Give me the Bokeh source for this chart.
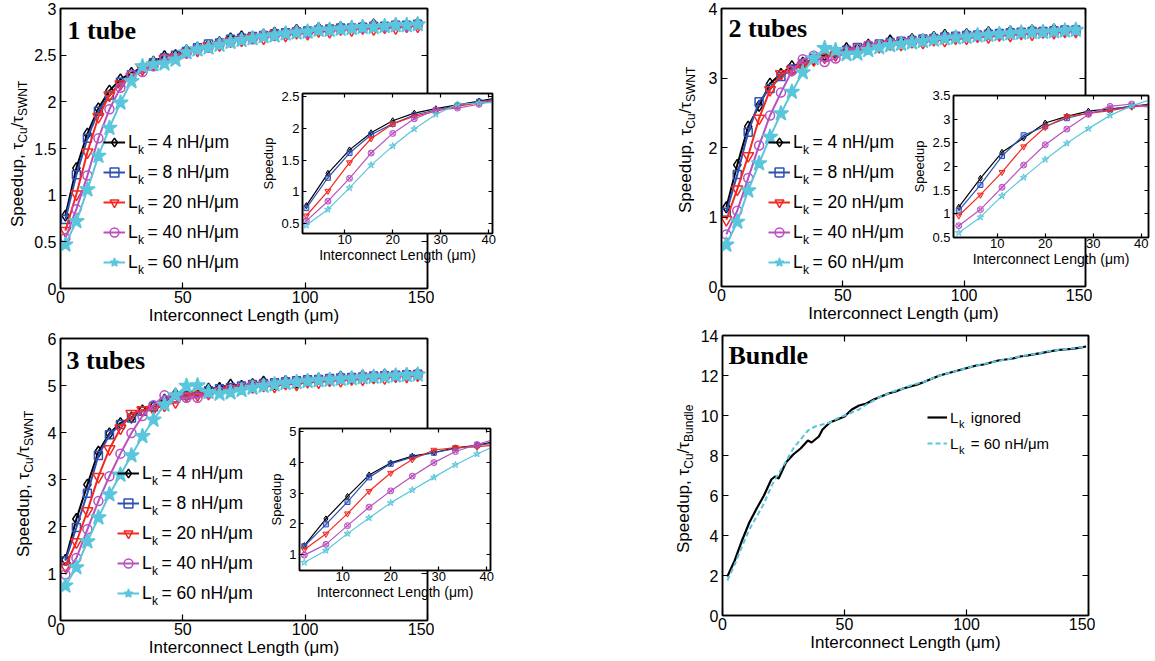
from math import pi
from bokeh.plotting import figure
from bokeh.models import (Range1d, FixedTicker, LinearAxis, NumeralTickFormatter,
                          CustomJSTickFormatter, Legend, LegendItem, Label, GridBox, Div)
from bokeh.embed import file_html
from bokeh.resources import INLINE

SANS = "Liberation Sans"
SERIF = "Liberation Serif"

# ---------------- data ----------------
X = [2, 6.5, 11, 15.5, 20, 24.5, 29, 33.5, 38, 42.5, 47, 51.5, 56, 60.5, 65, 69.5, 74,
     78.5, 83, 87.5, 92, 96.5, 101, 105.5, 110, 114.5, 119, 123.5, 128, 132.5, 137, 141.5, 146]

LK_LABELS = ["4", "8", "20", "40", "60"]

T1_4 = [0.78, 1.29, 1.66, 1.93, 2.12, 2.24, 2.31, 2.37, 2.43, 2.49, 2.50, 2.55, 2.58, 2.61, 2.64, 2.68, 2.70,
        2.69, 2.72, 2.74, 2.74, 2.77, 2.76, 2.79, 2.78, 2.80, 2.80, 2.81, 2.83, 2.80, 2.83, 2.82, 2.84]
T1_8 = [0.74, 1.22, 1.61, 1.90, 2.07, 2.21, 2.29, 2.36, 2.42, 2.47, 2.50, 2.54, 2.58, 2.62, 2.63, 2.67, 2.68,
        2.70, 2.71, 2.73, 2.74, 2.75, 2.76, 2.77, 2.78, 2.79, 2.79, 2.80, 2.81, 2.81, 2.82, 2.82, 2.83]
T1_20 = [0.62, 1.01, 1.46, 1.84, 2.07, 2.19, 2.27, 2.35, 2.40, 2.46, 2.48, 2.53, 2.55, 2.60, 2.61, 2.65, 2.66,
         2.69, 2.68, 2.72, 2.71, 2.74, 2.73, 2.76, 2.75, 2.78, 2.77, 2.79, 2.78, 2.80, 2.79, 2.81, 2.81]
T1_40 = [0.54, 0.85, 1.21, 1.61, 1.92, 2.15, 2.29, 2.32, 2.38, 2.46, 2.47, 2.52, 2.56, 2.58, 2.62, 2.64, 2.67,
         2.67, 2.71, 2.71, 2.73, 2.75, 2.74, 2.77, 2.77, 2.78, 2.79, 2.79, 2.81, 2.80, 2.82, 2.81, 2.83]
T1_60 = [0.47, 0.72, 1.06, 1.42, 1.72, 1.99, 2.22, 2.38, 2.40, 2.41, 2.45, 2.53, 2.56, 2.58, 2.61, 2.64, 2.66,
         2.68, 2.70, 2.71, 2.73, 2.74, 2.75, 2.77, 2.77, 2.78, 2.79, 2.80, 2.80, 2.81, 2.82, 2.82, 2.83]

T2_4 = [1.14, 1.75, 2.30, 2.60, 2.92, 3.06, 3.17, 3.22, 3.26, 3.33, 3.36, 3.43, 3.42, 3.48, 3.47, 3.54, 3.52,
        3.56, 3.55, 3.59, 3.62, 3.60, 3.63, 3.62, 3.66, 3.64, 3.67, 3.66, 3.69, 3.67, 3.70, 3.68, 3.70]
T2_8 = [1.07, 1.61, 2.22, 2.66, 2.85, 3.02, 3.13, 3.20, 3.28, 3.31, 3.37, 3.40, 3.44, 3.46, 3.49, 3.51, 3.53,
        3.54, 3.56, 3.57, 3.59, 3.60, 3.61, 3.62, 3.63, 3.64, 3.65, 3.66, 3.67, 3.67, 3.68, 3.69, 3.69]
T2_20 = [0.96, 1.40, 1.88, 2.42, 2.83, 3.06, 3.12, 3.18, 3.26, 3.30, 3.33, 3.38, 3.39, 3.44, 3.45, 3.49, 3.48,
         3.52, 3.51, 3.55, 3.54, 3.57, 3.57, 3.60, 3.59, 3.62, 3.61, 3.64, 3.63, 3.66, 3.65, 3.67, 3.67]
T2_40 = [0.75, 1.09, 1.56, 2.03, 2.46, 2.79, 3.10, 3.27, 3.32, 3.23, 3.28, 3.38, 3.42, 3.47, 3.48, 3.50, 3.52,
         3.53, 3.55, 3.56, 3.58, 3.59, 3.60, 3.61, 3.62, 3.63, 3.64, 3.65, 3.66, 3.66, 3.67, 3.68, 3.68]
T2_60 = [0.60, 0.93, 1.38, 1.77, 2.15, 2.49, 2.80, 3.08, 3.28, 3.43, 3.40, 3.34, 3.35, 3.40, 3.44, 3.47, 3.49,
         3.51, 3.53, 3.55, 3.57, 3.58, 3.59, 3.61, 3.62, 3.63, 3.64, 3.65, 3.66, 3.66, 3.67, 3.68, 3.69]

T3_4 = [1.29, 2.16, 2.89, 3.59, 3.98, 4.20, 4.32, 4.47, 4.55, 4.70, 4.82, 4.86, 4.88, 4.93, 4.95, 5.02, 4.99,
        5.03, 5.08, 5.03, 5.10, 5.06, 5.11, 5.14, 5.11, 5.19, 5.15, 5.21, 5.17, 5.23, 5.19, 5.24, 5.25]
T3_8 = [1.27, 1.98, 2.71, 3.51, 3.95, 4.17, 4.31, 4.45, 4.55, 4.65, 4.73, 4.80, 4.85, 4.89, 4.93, 4.96, 4.99,
        5.02, 5.04, 5.06, 5.08, 5.10, 5.12, 5.13, 5.15, 5.16, 5.17, 5.18, 5.20, 5.21, 5.22, 5.23, 5.24]
T3_20 = [1.16, 1.67, 2.33, 3.06, 3.65, 4.09, 4.40, 4.48, 4.50, 4.58, 4.65, 4.78, 4.80, 4.83, 4.88, 4.92, 4.94,
         4.97, 5.00, 4.98, 5.04, 5.02, 5.08, 5.07, 5.11, 5.10, 5.14, 5.13, 5.17, 5.16, 5.20, 5.19, 5.22]
T3_40 = [0.98, 1.33, 1.94, 2.54, 3.07, 3.55, 3.99, 4.35, 4.58, 4.79, 4.72, 4.74, 4.74, 4.83, 4.87, 4.92, 4.96,
         5.00, 5.02, 5.04, 5.06, 5.08, 5.10, 5.12, 5.13, 5.15, 5.16, 5.18, 5.19, 5.20, 5.21, 5.22, 5.23]
T3_60 = [0.74, 1.13, 1.68, 2.19, 2.68, 3.10, 3.51, 3.92, 4.27, 4.59, 4.79, 4.99, 5.00, 4.86, 4.82, 4.85, 4.90,
         4.95, 4.99, 5.02, 5.05, 5.07, 5.09, 5.11, 5.12, 5.14, 5.15, 5.17, 5.18, 5.19, 5.21, 5.22, 5.23]

BX = [2, 5, 8, 11, 14, 17, 20, 21.5, 23, 26, 29, 32, 35, 36.5, 38, 39.5, 41, 44, 47, 50, 53, 56, 59, 62,
      65, 68, 71, 74, 77, 80, 83, 86, 89, 92, 95, 98, 101, 104, 107, 110, 113, 116, 119, 122, 125, 128,
      131, 134, 137, 140, 143, 146, 149]
B_IGNORED = [1.95, 2.75, 3.75, 4.65, 5.35, 6.00, 6.80, 6.95, 6.85, 7.65, 8.05, 8.35, 8.75, 8.65, 8.80,
             8.95, 9.30, 9.65, 9.80, 9.95, 10.30, 10.50, 10.60, 10.80, 10.95, 11.10, 11.20, 11.35, 11.45,
             11.55, 11.70, 11.85, 12.00, 12.10, 12.20, 12.30, 12.40, 12.50, 12.55, 12.65, 12.75, 12.80,
             12.85, 12.95, 13.00, 13.07, 13.13, 13.20, 13.27, 13.30, 13.33, 13.38, 13.45]
B_LK60 = [1.75, 2.55, 3.45, 4.30, 4.95, 5.60, 6.45, 6.80, 7.10, 7.70, 8.35, 8.80, 9.25, 9.35, 9.45, 9.50,
          9.55, 9.65, 9.85, 10.00, 10.15, 10.30, 10.55, 10.75, 10.95, 11.10, 11.25, 11.35, 11.50, 11.60,
          11.70, 11.85, 12.00, 12.10, 12.20, 12.30, 12.40, 12.50, 12.57, 12.65, 12.73, 12.80, 12.87,
          12.95, 13.02, 13.08, 13.15, 13.22, 13.27, 13.31, 13.35, 13.40, 13.46]

COLORS = ["#000000", "#2e50b4", "#f4281f", "#b950bf", "#5ac6dc"]
MARKERS = ["diamond", "square", "inverted_triangle", "circle", "star"]
MAIN_SIZES = [11, 8, 11, 9, 16]
INSET_MARKERS = ["diamond", "square", "inverted_triangle", "circle_x", "star"]
INSET_SIZES = [6, 5, 6, 6, 7]

# ---------------- geometry (page pixels) ----------------
# All plots share the same border sizes (the grid aligns plot frames to the largest
# borders), and each plot is placed with its own margin.
ML, MT, MR, MB = 60, 8, 7, 40
G = {
    "P1": dict(fl=60, ft=8, fw=367, fh=280, xr=(0, 150), yr=(0, 3)),
    "P2": dict(fl=721, ft=8, fw=364, fh=278, xr=(0, 150), yr=(0, 4)),
    "P3": dict(fl=60, ft=338, fw=367, fh=282, xr=(0, 150), yr=(0, 6)),
    "P4": dict(fl=722, ft=335, fw=366, fh=280, xr=(0, 150), yr=(0, 14)),
    "I1": dict(fl=302, ft=93, fw=190, fh=140, xr=(1.2, 40.8), yr=(0.34, 2.55)),
    "I2": dict(fl=953, ft=95, fw=195, fh=142, xr=(0.9, 41.5), yr=(0.5, 3.5)),
    "I3": dict(fl=299, ft=428, fw=191, fh=142, xr=(1.0, 40.8), yr=(0.48, 5.1)),
}


def to_data(g, px, py):
    x = g["xr"][0] + (px - g["fl"]) * (g["xr"][1] - g["xr"][0]) / g["fw"]
    y = g["yr"][1] - (py - g["ft"]) * (g["yr"][1] - g["yr"][0]) / g["fh"]
    return x, y


def add_text(p, g, px, py, text, size, font=SANS, angle=0, align="left",
             baseline="middle", style="normal"):
    x, y = to_data(g, px, py)
    p.add_layout(Label(x=x, y=y, x_units="data", y_units="data", text=text,
                       text_font=font, text_font_size=f"{size}px", text_align=align,
                       text_baseline=baseline, angle=angle, text_font_style=style,
                       text_color="black"))


def style_axis(ax, ticks, font_px, tick_len, labels=True):
    ax.ticker = FixedTicker(ticks=ticks)
    ax.major_tick_in = tick_len
    ax.major_tick_out = 0
    ax.minor_tick_line_color = None
    ax.axis_line_color = "black"
    ax.axis_line_width = 1.5
    ax.major_tick_line_color = "black"
    ax.major_tick_line_width = 1.2
    if labels:
        ax.formatter = NumeralTickFormatter(format="0.[0]")
        ax.major_label_text_font = SANS
        ax.major_label_text_font_size = f"{font_px}px"
        ax.major_label_text_color = "black"
    else:
        ax.formatter = CustomJSTickFormatter(code="return ''")
        ax.major_label_text_font_size = "1px"
        ax.major_label_standoff = 0


def make_fig(key, xt, yt, tick_px, tick_len, xlab_px, inset):
    g = G[key]
    p = figure(frame_width=g["fw"], frame_height=g["fh"],
               x_range=Range1d(*g["xr"]), y_range=Range1d(*g["yr"]),
               output_backend="svg", toolbar_location=None, tools="",
               min_border_left=ML, min_border_top=MT, min_border_right=MR, min_border_bottom=MB)
    p.margin = (g["ft"] - MT, 0, 0, g["fl"] - ML)
    p.xgrid.visible = False
    p.ygrid.visible = False
    p.outline_line_color = "black"
    p.outline_line_width = 1.5
    p.background_fill_color = "white"
    p.border_fill_alpha = 0
    xa = p.xaxis[0]
    ya = p.yaxis[0]
    style_axis(xa, xt, tick_px, tick_len)
    style_axis(ya, yt, tick_px, tick_len)
    xa.major_label_standoff = 2 if not inset else 1
    ya.major_label_standoff = 4 if not inset else 3
    xa.axis_label = "Interconnect Length (μm)"
    xa.axis_label_text_font = SANS
    xa.axis_label_text_font_size = f"{xlab_px}px"
    xa.axis_label_text_font_style = "normal"
    xa.axis_label_text_color = "black"
    xa.axis_label_standoff = 0
    if inset:
        ya.axis_label = "Speedup"
        ya.axis_label_text_font = SANS
        ya.axis_label_text_font_size = "13px"
        ya.axis_label_text_font_style = "normal"
        ya.axis_label_text_color = "black"
        ya.axis_label_standoff = 2
    top = LinearAxis()
    style_axis(top, xt, tick_px, tick_len, labels=False)
    p.add_layout(top, "above")
    right = LinearAxis()
    style_axis(right, yt, tick_px, tick_len, labels=False)
    p.add_layout(right, "right")
    return p


def draw_series(p, ys_list, inset):
    out = []
    for i, ys in enumerate(ys_list):
        col = COLORS[i]
        lw = 1.2 if inset else 2
        ln = p.line(X, ys, line_color=col, line_width=lw)
        if inset:
            mk = p.scatter(X, ys, marker=INSET_MARKERS[i], size=INSET_SIZES[i], line_color=col,
                           fill_color=col, fill_alpha=0.35, line_width=1)
        else:
            filled = MARKERS[i] == "star"
            mk = p.scatter(X, ys, marker=MARKERS[i], size=MAIN_SIZES[i], line_color=col,
                           fill_color=col, fill_alpha=1.0 if filled else 0.0, line_width=1.5)
        out.append((ln, mk))
    return out


LEG_PX = 17.5


def add_legend(p, g, rends, glyph_left, row_top, row_h, glyph_w, font_px, k_px, labels, k_dx, k_dy):
    items = [LegendItem(label=lab, renderers=list(r)) for lab, r in zip(labels, rends)]
    n = len(items)
    vx = glyph_left - g["fl"]
    vy = (g["ft"] + g["fh"]) - (row_top + n * row_h)
    leg = Legend(items=items, location=(vx, vy), orientation="vertical",
                 border_line_alpha=0, background_fill_alpha=0, padding=0, margin=0, spacing=0,
                 glyph_width=glyph_w, glyph_height=row_h, label_height=row_h, label_standoff=3,
                 label_text_font=SANS, label_text_font_size=f"{font_px}px",
                 label_text_color="black", label_text_baseline="middle")
    p.add_layout(leg)
    text_start = glyph_left + glyph_w + 3
    for j in range(n):
        yc = row_top + row_h * j + row_h / 2
        add_text(p, g, text_start + k_dx, yc + k_dy, "k", k_px)


def ytitle_div(left, bottom, sub2):
    # rotated y-axis title with real subscripts; box rotated about its top-left corner
    html = ("<div style=\"font-family:'Liberation Sans',Arial,sans-serif;font-size:17px;"
            "line-height:20px;white-space:nowrap;color:#000;margin:0;padding:0\">"
            "Speedup, τ<sub style=\"font-size:12px;line-height:0\">Cu</sub>/τ"
            f"<sub style=\"font-size:12px;line-height:0\">{sub2}</sub></div>")
    d = Div(text=html, width=170, height=22, margin=(bottom, 0, 0, left),
            styles={"transform-origin": "0 0", "transform": "rotate(-90deg)"})
    return d


MAIN_XT = [0, 50, 100, 150]
LEG_LABELS = ["L\u00a0\u00a0= " + s + " nH/μm" for s in LK_LABELS]

# ---------- Panel 1 ----------
p1 = make_fig("P1", MAIN_XT, [0, 0.5, 1, 1.5, 2, 2.5, 3], 16, 6, 17, False)
r1 = draw_series(p1, [T1_4, T1_8, T1_20, T1_40, T1_60], False)
add_legend(p1, G["P1"], r1, 103, 127, 30, 22, LEG_PX, 12, LEG_LABELS, 9.6, 7)
add_text(p1, G["P1"], 67, 30, "1 tube", 26, font=SERIF, style="bold")
d1 = ytitle_div(8, 227, "SWNT")

# ---------- Panel 2 ----------
p2 = make_fig("P2", MAIN_XT, [0, 1, 2, 3, 4], 16, 6, 17, False)
r2 = draw_series(p2, [T2_4, T2_8, T2_20, T2_40, T2_60], False)
add_legend(p2, G["P2"], r2, 768, 127, 30, 22, LEG_PX, 12, LEG_LABELS, 9.6, 7)
add_text(p2, G["P2"], 728, 27.5, "2 tubes", 26, font=SERIF, style="bold")
d2 = ytitle_div(676, 213, "SWNT")

# ---------- Panel 3 ----------
p3 = make_fig("P3", MAIN_XT, [0, 1, 2, 3, 4, 5, 6], 16, 6, 17, False)
r3 = draw_series(p3, [T3_4, T3_8, T3_20, T3_40, T3_60], False)
add_legend(p3, G["P3"], r3, 117, 458, 30, 22, LEG_PX, 12, LEG_LABELS, 9.6, 7)
add_text(p3, G["P3"], 66, 360, "3 tubes", 26, font=SERIF, style="bold")
d3 = ytitle_div(14, 557, "SWNT")

# ---------- Panel 4 (bundle) ----------
p4 = make_fig("P4", MAIN_XT, [0, 2, 4, 6, 8, 10, 12, 14], 16, 6, 17, False)
lb1 = p4.line(BX, B_IGNORED, line_color="black", line_width=2.2)
lb2 = p4.line(BX, B_LK60, line_color=COLORS[4], line_width=2, line_dash="5 3")
add_legend(p4, G["P4"], [(lb1,), (lb2,)], 927, 404, 26, 20, 15, 11,
           ["L\u00a0\u00a0\u00a0ignored", "L\u00a0\u00a0\u00a0= 60 nH/μm"], 8.5, 6)
add_text(p4, G["P4"], 728, 355, "Bundle", 26, font=SERIF, style="bold")
d4 = ytitle_div(674, 553, "Bundle")

# ---------- Insets ----------
INSET_XT = [10, 20, 30, 40]
i1 = make_fig("I1", INSET_XT, [0.5, 1, 1.5, 2, 2.5], 13, 4, 14, True)
draw_series(i1, [T1_4, T1_8, T1_20, T1_40, T1_60], True)
i2 = make_fig("I2", INSET_XT, [0.5, 1, 1.5, 2, 2.5, 3, 3.5], 13, 4, 14, True)
draw_series(i2, [T2_4, T2_8, T2_20, T2_40, T2_60], True)
i3 = make_fig("I3", INSET_XT, [1, 2, 3, 4, 5], 13, 4, 14, True)
draw_series(i3, [T3_4, T3_8, T3_20, T3_40, T3_60], True)

items = [p1, p2, p3, p4, i1, i2, i3, d1, d2, d3, d4]
grid = GridBox(children=[(f, 0, 0) for f in items])

open("out.html", "w").write(file_html(grid, INLINE))
